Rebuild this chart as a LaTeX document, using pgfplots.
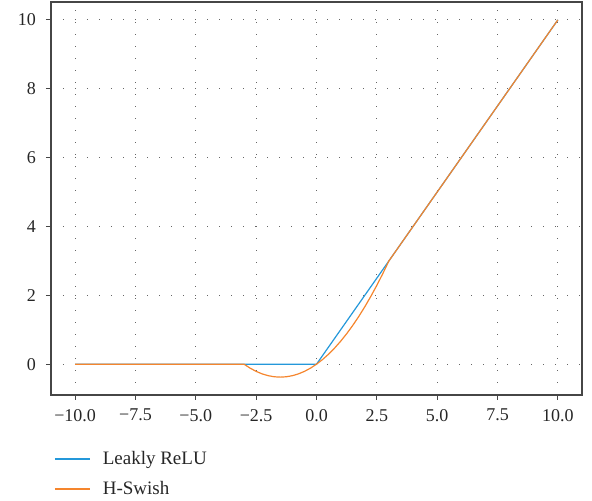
\documentclass[border=0pt]{standalone}
\usepackage{fontspec}
\setmainfont{Liberation Serif}
\usepackage{pgfplots}
\pgfplotsset{compat=1.18}
\definecolor{lblue}{RGB}{36,152,218}
\definecolor{lorange}{RGB}{245,133,45}
\definecolor{spine}{RGB}{70,70,70}
\begin{document}
\fontsize{18}{21}\selectfont
\begin{tikzpicture}
\begin{axis}[
  name=ax,
  scale only axis,
  width=531pt, height=393pt,
  xmin=-11, xmax=11, ymin=-0.894, ymax=10.519,
  xtick={-10,-7.5,-5,-2.5,0,2.5,5,7.5,10},
  xticklabels={−10.0,−7.5,−5.0,−2.5,0.0,2.5,5.0,7.5,10.0},
  ytick={0,2,4,6,8,10},
  yticklabels={0,2,4,6,8,10},
  tick align=outside,
  major tick length=5pt,
  tick style={spine, line width=1pt},
  xtick pos=bottom, ytick pos=left,
  axis line style={spine, line width=1.3pt},
  grid=major,
  major grid style={draw=black!60, line width=1.2pt, dash pattern=on 1.2pt off 10.8pt},
  ticklabel style={font=\fontsize{18}{21}\selectfont, text=black!85},
  xticklabel style={yshift=-3pt},
  yticklabel style={xshift=-4pt},
  legend style={draw=none, at={(0,-0.132)}, anchor=north west, font=\fontsize{19}{22}\selectfont, row sep=10pt, fill=none, text=black!85, nodes={inner xsep=8pt}},
  legend cell align=left,
  legend image code/.code={\draw[#1] (0pt,0pt) -- (35pt,0pt); \path[draw=none] (0pt,0pt) -- (40pt,0pt);},
  clip=false,
]
\addplot[lblue, line width=1.2pt] coordinates {(-10,0) (0,0) (10,10)};
\addlegendentry{Leakly ReLU}
\addplot[lorange, line width=1.2pt] coordinates {
(-10,0) (-3,0) (-2.75,-0.1146) (-2.5,-0.2083) (-2.25,-0.28125) (-2,-0.3333)
(-1.75,-0.3646) (-1.5,-0.375) (-1.25,-0.3646) (-1,-0.3333) (-0.75,-0.28125)
(-0.5,-0.2083) (-0.25,-0.1146) (0,0) (0.25,0.1354) (0.5,0.2917) (0.75,0.46875)
(1,0.6667) (1.25,0.8854) (1.5,1.125) (1.75,1.3854) (2,1.6667) (2.25,1.96875)
(2.5,2.2917) (2.75,2.6354) (3,3) (10,10)};
\addlegendentry{H-Swish}
\end{axis}
\path ([shift={(-51pt,-105pt)}]ax.south west) rectangle ([shift={(10pt,2pt)}]ax.north east);
\end{tikzpicture}
\end{document}
